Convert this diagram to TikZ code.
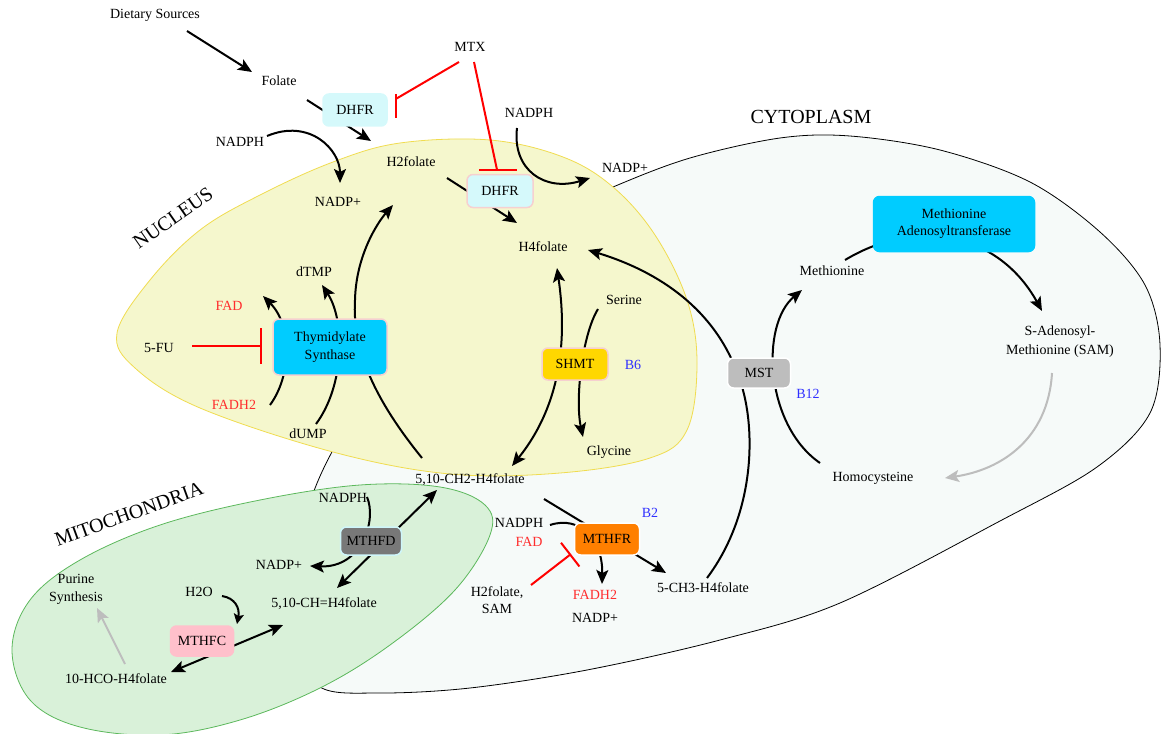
\documentclass[tikz,border=0pt]{standalone}
\usepackage{fontspec}
\setmainfont{Liberation Serif}
\usetikzlibrary{arrows.meta,calc}
\pgfdeclarelayer{regions}
\pgfdeclarelayer{links}
\pgfsetlayers{regions,links,main}
\definecolor{cytofill}{HTML}{F6FAF9}
\definecolor{nucfill}{HTML}{F5F7CD}
\definecolor{nucline}{HTML}{F0DC50}
\definecolor{mitofill}{HTML}{D9F1D9}
\definecolor{mitoline}{HTML}{5CB85C}
\definecolor{dhfrfill}{HTML}{D5F9FB}
\definecolor{tsfill}{HTML}{00CCFF}
\definecolor{shmtfill}{HTML}{FFD700}
\definecolor{mstfill}{HTML}{BDBDBD}
\definecolor{mthfrfill}{HTML}{FF7F00}
\definecolor{mthfdfill}{HTML}{787878}
\definecolor{mthfcfill}{HTML}{FFC0CB}
\definecolor{pinkline}{HTML}{F6D0D0}
\definecolor{cyanline}{HTML}{CFF6FA}
\definecolor{inhred}{HTML}{FF0000}
\definecolor{fadred}{HTML}{FF2D2D}
\definecolor{vitblue}{HTML}{3030FF}
\definecolor{arrgrey}{HTML}{BDBDBD}
\begin{document}
\begin{tikzpicture}[x=1pt,y=-1pt,
  every node/.style={inner sep=1pt},
  font=\fontsize{14}{17}\selectfont,
  arr/.style={line width=2pt,-{Stealth[length=14pt,width=12pt,inset=3pt]}},
  sarr/.style={line width=2pt,-{Stealth[length=10pt,width=10pt,inset=2pt]}},
  darr/.style={line width=2pt,{Stealth[length=14pt,width=12pt,inset=3pt]}-{Stealth[length=14pt,width=12pt,inset=3pt]}},
  garr/.style={line width=2pt,draw=arrgrey,-{Stealth[length=14pt,width=12pt,inset=3pt]}},
  inh/.style={line width=2pt,draw=inhred},
  enz/.style={rounded corners=6pt,line width=1.5pt,align=center},
  redt/.style={text=fadred},
  bluet/.style={text=vitblue},
  region/.style={font=\fontsize{20}{20}\selectfont}
]
\useasboundingbox (0,0) rectangle (1161,733);

% ---------- regions ----------
\begin{pgfonlayer}{regions}
\draw[fill=cytofill,draw=black,line width=0.8pt] plot[smooth cycle,tension=0.55] coordinates {
  (333,450) (420,320) (530,225) (613,187) (690,158) (780,138) (850,136) (940,150)
  (1030,182) (1100,232) (1145,285) (1160,345) (1150,413) (1097,467) (1000,521)
  (840,603) (720,640) (587,670) (470,688) (380,693)
  (320,687) (295,640) (300,540)};
\draw[fill=nucfill,draw=nucline,line width=0.8pt] plot[smooth cycle,tension=0.6] coordinates {
  (117,333) (150,280) (200,230) (260,195) (333,162) (400,143) (490,140) (563,157)
  (613,187) (655,235) (687,300) (697,363) (687,430) (650,458) (560,473) (450,474)
  (333,452) (200,408) (135,368)};
\draw[fill=mitofill,draw=mitoline,line width=0.8pt] plot[smooth cycle,tension=0.6] coordinates {
  (12,650) (30,600) (80,560) (160,525) (260,500) (360,485) (440,487) (485,505)
  (490,535) (455,590) (390,645) (320,688) (240,720) (160,735) (80,727) (30,700)};
\end{pgfonlayer}

% ---------- region labels ----------
\node[region,rotate=35] (lnuc) at (173,218) {NUCLEUS};
\node[region] (lcyt) at (811,117) {CYTOPLASM};
\node[region,rotate=20] (lmit) at (129,514) {MITOCHONDRIA};

% ---------- text nodes ----------
\node (diet) at (155,15) {Dietary Sources};
\node (folate) at (279,81) {Folate};
\node (mtx) at (470,47) {MTX};
\node (nadphA) at (240,142) {NADPH};
\node (nadpA) at (338,202) {NADP+};
\node (h2f) at (411,162) {H2folate};
\node (nadphB) at (529,113) {NADPH};
\node (nadpB) at (625,168) {NADP+};
\node (h4f) at (543,247) {H4folate};
\node (dtmp) at (314,272) {dTMP};
\node[redt] (fadA) at (229,306) {FAD};
\node (fu) at (159,348) {5-FU};
\node[redt] (fadhA) at (234,405) {FADH2};
\node (dump) at (308,434) {dUMP};
\node (ch2) at (470,480) {5,10-CH2-H4folate};
\node[bluet] (b6) at (633,365) {B6};
\node (serine) at (624,300) {Serine};
\node (glycine) at (609,452) {Glycine};
\node[bluet] (b12) at (808,394) {B12};
\node (met) at (832,271) {Methionine};
\node[align=center,font=\fontsize{14}{19}\selectfont] (sam) at (1060,342) {S-Adenosyl-\\Methionine (SAM)};
\node (hcy) at (873,478) {Homocysteine};
\node[bluet] (b2) at (650,513) {B2};
\node (nadphC) at (519,523) {NADPH};
\node[redt] (fadB) at (529,542) {FAD};
\node[align=center,font=\fontsize{14}{17}\selectfont] (h2sam) at (497,600) {H2folate,\\SAM};
\node[redt] (fadhB) at (595,595) {FADH2};
\node (nadpC) at (595,618) {NADP+};
\node (ch3) at (703,588) {5-CH3-H4folate};
\node (nadphD) at (343,498) {NADPH};
\node (nadpD) at (279,565) {NADP+};
\node (chh) at (324,604) {5,10-CH=H4folate};
\node (h2o) at (199,592) {H2O};
\node[align=center,font=\fontsize{14}{18}\selectfont] (purine) at (76,589) {Purine\\Synthesis};
\node (hco) at (116,679) {10-HCO-H4folate};

% ---------- enzyme boxes ----------
\node[enz,fill=dhfrfill,draw=dhfrfill,minimum width=64pt,minimum height=32pt] (dhfrA) at (355,110) {DHFR};
\node[enz,fill=dhfrfill,draw=pinkline,minimum width=66pt,minimum height=33pt] (dhfrB) at (500,191) {DHFR};
\node[enz,fill=tsfill,draw=pinkline,minimum width=114pt,minimum height=56pt,font=\fontsize{14}{18}\selectfont] (ts) at (330,347) {Thymidylate\\Synthase};
\node[enz,fill=shmtfill,draw=pinkline,minimum width=66pt,minimum height=32pt] (shmt) at (575,364) {SHMT};
\node[enz,fill=mstfill,draw=white,minimum width=63pt,minimum height=30pt] (mst) at (759,373) {MST};
\node[enz,fill=tsfill,draw=tsfill,minimum width=161pt,minimum height=55pt] (mat) at (954,224) {Methionine\\Adenosyltransferase};
\node[enz,fill=mthfrfill,draw=white,minimum width=65pt,minimum height=32pt] (mthfr) at (607,539) {MTHFR};
\node[enz,fill=mthfdfill,draw=cyanline,minimum width=61pt,minimum height=28pt] (mthfd) at (371,541) {MTHFD};
\node[enz,fill=mthfcfill,draw=mthfcfill,minimum width=63pt,minimum height=30pt] (mthfc) at (202,641) {MTHFC};

% ---------- connectors ----------
\begin{pgfonlayer}{links}
\draw[arr] ($(diet)+(32,16)$) -- ($(folate)+(-27,-9)$);
\draw[arr] ($(folate)+(28,19)$) -- ($(h2f)+(-40,-21)$);
\draw[inh] ($(mtx)+(-11,15)$) -- ($(dhfrA.east)+(8,-11)$);
\draw[inh] ($(dhfrA.east)+(8,-16)$) -- ($(dhfrA.east)+(8,8)$);
\draw[inh] ($(mtx)+(4,15)$) -- ($(dhfrB.north)+(-3,-4)$);
\draw[inh] ($(dhfrB.north)+(-21,-4)$) -- ($(dhfrB.north)+(17,-4)$);
\draw[arr] ($(h2f)+(36,16)$) -- ($(h4f)+(-26,-24)$);
\draw[arr] ($(nadphA)+(27,-6)$) .. controls (310,118) and (340,150) .. ($(nadpA)+(2,-19)$);
\draw[arr] ($(nadphB)+(-12,15)$) .. controls (512,170) and (545,192) .. ($(nadpB)+(-35,10)$);
\draw[arr] ($(ch2)+(-48,-22)$) .. controls (375,400) and (352,350) .. (355,300) .. controls (356,255) and (378,222) .. ($(h2f)+(-18,43)$);
\draw[arr] ($(dump)+(8,-10)$) .. controls (345,385) and (345,320) .. ($(dtmp)+(8,13)$);
\draw[arr] ($(fadhA)+(36,0)$) .. controls (292,375) and (292,325) .. ($(fadA)+(34,-10)$);
\draw[inh,-{Bar[width=36pt]}] ($(fu)+(33,-2)$) -- ($(ts.west)+(-10,-1)$);
\draw[darr] ($(h4f)+(14,21)$) .. controls (566,330) and (565,400) .. ($(ch2)+(42,-14)$);
\draw[arr] ($(serine)+(-26,9)$) .. controls (582,335) and (575,400) .. ($(glycine)+(-26,-15)$);
\draw[arr] ($(ch3)+(4,-10)$) .. controls (758,510) and (756,420) .. (738,375) .. controls (715,310) and (660,272) .. ($(h4f)+(45,3)$);
\draw[arr] ($(hcy)+(-53,-15)$) .. controls (765,425) and (760,325) .. ($(met)+(-30,19)$);
\draw[arr] ($(met)+(13,-11)$) .. controls (920,215) and (1000,235) .. ($(sam)+(-18,-31)$);
\draw[garr] ($(sam)+(-8,31)$) .. controls (1048,440) and (1000,470) .. ($(hcy)+(72,0)$);
\draw[arr] ($(ch2)+(74,19)$) -- ($(ch3)+(-37,-15)$);
\draw[arr] ($(nadphC)+(31,2)$) .. controls (580,515) and (603,540) .. ($(fadhB)+(7,-11)$);
\draw[inh,-{Bar[width=30pt]}] ($(h2sam)+(34,-15)$) -- ($(mthfr)+(-36,15)$);
\draw[arr] ($(nadphD)+(24,-1)$) .. controls (377,520) and (362,568) .. ($(nadpD)+(31,1)$);
\draw[darr] ($(chh)+(13,-16)$) -- ($(ch2)+(-33,10)$);
\draw[sarr] ($(h2o)+(23,4)$) .. controls (235,598) and (240,608) .. ($(mthfc)+(35,-17)$);
\draw[darr] ($(hco)+(55,-7)$) -- ($(chh)+(-41,21)$);
\draw[garr] ($(hco)+(9,-15)$) -- ($(purine)+(21,19)$);
\end{pgfonlayer}
\end{tikzpicture}
\end{document}
